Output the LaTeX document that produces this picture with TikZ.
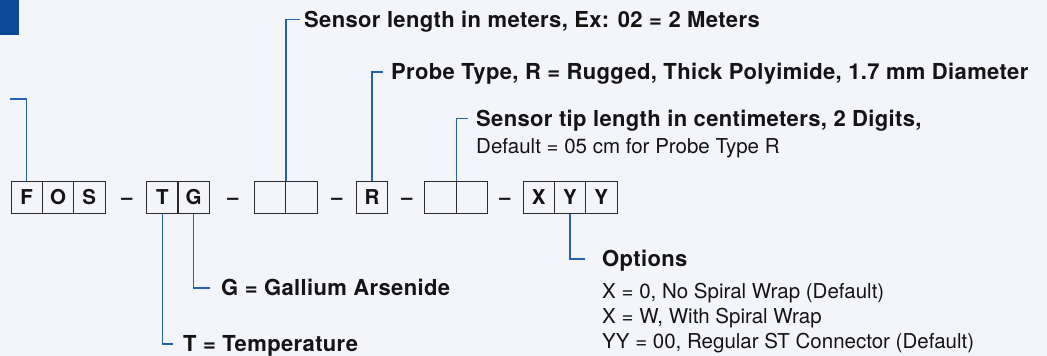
\documentclass[tikz,border=0pt]{standalone}
\usepackage{fontspec}
\setmainfont{TeX Gyre Heros}
\newfontfamily\widehead[LetterSpace=1.6]{TeX Gyre Heros}
\definecolor{pagebg}{HTML}{F4F5FA}
\definecolor{brandblue}{HTML}{0B4A99}
\definecolor{leadblue}{HTML}{2563AE}
\definecolor{cellline}{HTML}{2B2B2B}
\definecolor{ink}{HTML}{141414}
\begin{document}
\begin{tikzpicture}[x=1pt,y=-1pt,
    cell/.style={draw=cellline, line width=1pt, minimum size=31.4pt, inner sep=0pt,
      text=ink, font=\widehead\bfseries\fontsize{20.5}{21}\selectfont},
    hyph/.style={inner sep=0pt, text=ink, font=\bfseries\fontsize{20}{20}\selectfont},
    head/.style={anchor=west, inner sep=0pt, text height=15.6pt, text depth=0pt,
      text=ink, font=\widehead\bfseries\fontsize{22}{24}\selectfont},
    note/.style={anchor=west, inner sep=0pt, text height=14.7pt, text depth=0pt,
      text=ink, font=\fontsize{20.5}{24}\selectfont},
    lead/.style={draw=leadblue, line width=1.5pt}]
  \fill[pagebg] (0,0) rectangle (1047,356);
  \fill[brandblue] (0,0) rectangle (19,35);
  \draw
    (26.7,197.5) node[cell] (F){F}
    (58.0,197.5) node[cell] (O){O}
    (89.3,197.5) node[cell] (S){S}
    (127,201) node[hyph] (d1){--}
    (162.5,197.5) node[cell] (T){T}
    (193.5,197.5) node[cell] (G){G}
    (233,201) node[hyph] (d2){--}
    (270.0,197.5) node[cell] (len1){}
    (301.5,197.5) node[cell] (len2){}
    (337,201) node[hyph] (d3){--}
    (372,197.5) node[cell] (R){R}
    (407,201) node[hyph] (d4){--}
    (440.5,197.5) node[cell] (tip1){}
    (472.0,197.5) node[cell] (tip2){}
    (505,201) node[hyph] (d5){--}
    (538.7,197.5) node[cell] (X){X}
    (570.0,197.5) node[cell] (Y1){Y}
    (601.3,197.5) node[cell] (Y2){Y};
  \draw
    (304,19.5) node[head] (lenlbl){Sensor length in meters, Ex: 02 = 2 Meters}
    (391,72) node[head] (probelbl){Probe Type, R = Rugged, Thick Polyimide, 1.7 mm Diameter}
    (476,118.5) node[head] (tiplbl){Sensor tip length in centimeters, 2 Digits,}
    (476,146.3) node[note] (tipdef){Default = 05 cm for Probe Type R}
    (221,288) node[head] (glbl){G = Gallium Arsenide}
    (183,344) node[head] (tlbl){T = Temperature}
    (602,259) node[head] (optlbl){Options}
    (602,291) node[note] (opt1){X = 0, No Spiral Wrap (Default)}
    (602,316) node[note] (opt2){X = W, With Spiral Wrap}
    (602,341) node[note] (opt3){YY = 00, Regular ST Connector (Default)};
  \coordinate (lftend) at (10,99);
  \begin{scope}[lead]
    \draw (F.north) |- (lftend);
    \draw (len1.north east) |- ([xshift=-4pt]lenlbl.west);
    \draw (R.north) |- ([xshift=-8pt]probelbl.west);
    \draw (tip1.north east) |- ([xshift=-8pt]tiplbl.west);
    \draw (G.south) |- ([xshift=-11pt]glbl.west);
    \draw (T.south) |- ([xshift=-10pt]tlbl.west);
    \draw (Y1.south) |- ([xshift=-17pt]optlbl.west);
  \end{scope}
\end{tikzpicture}
\end{document}
